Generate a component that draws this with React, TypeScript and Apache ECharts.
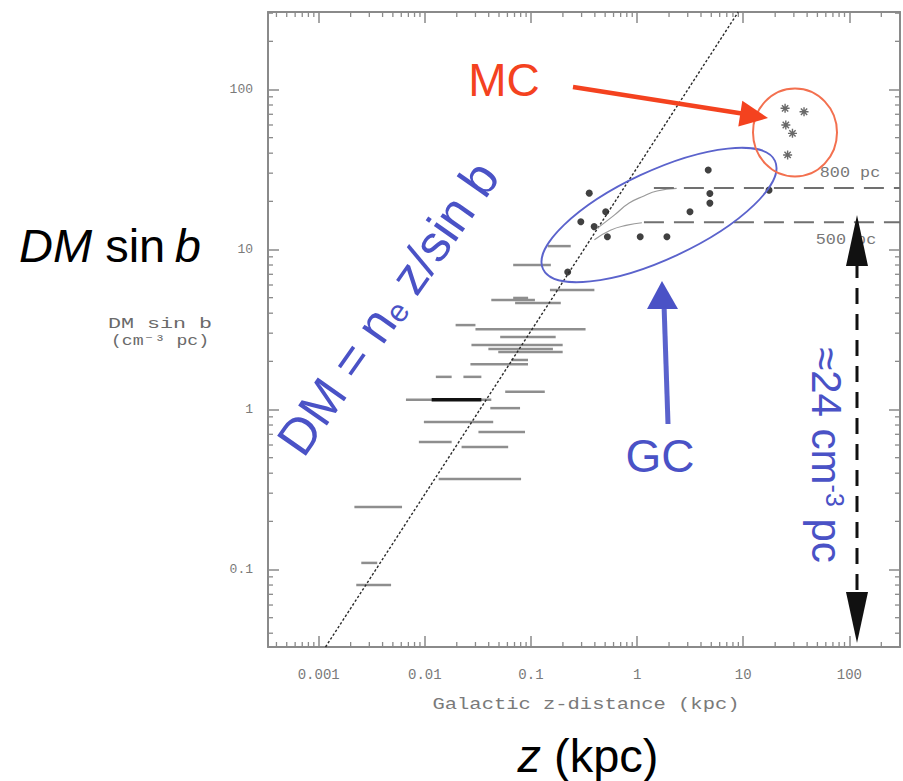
import React, { useEffect, useRef } from 'react';
import * as echarts from 'echarts';

// Axis ranges (kpc, cm^-3 pc)
const X_MIN = 0.000333;
const X_MAX = 300;
const Y_MIN = 0.0328;
const Y_MAX = 305;

// Pulsar z-distance ranges: [zMin, zMax, DM sin b]
const barsGray: number[][] = [
  [0.144, 0.237, 10.5],
  [0.068, 0.154, 8.0],
  [0.151, 0.396, 5.58],
  [0.0423, 0.109, 4.83],
  [0.068, 0.094, 4.98],
  [0.0709, 0.191, 4.63],
  [0.0195, 0.03, 3.37],
  [0.03, 0.327, 3.18],
  [0.0513, 0.171, 2.84],
  [0.0275, 0.199, 2.53],
  [0.0397, 0.161, 2.39],
  [0.0492, 0.199, 2.29],
  [0.065, 0.0938, 2.04],
  [0.0269, 0.0938, 1.92],
  [0.0127, 0.0179, 1.6],
  [0.0231, 0.0341, 1.6],
  [0.0572, 0.135, 1.29],
  [0.00664, 0.0423, 1.15],
  [0.0414, 0.0789, 1.02],
  [0.0098, 0.0441, 0.835],
  [0.032, 0.0879, 0.723],
  [0.00879, 0.0179, 0.626],
  [0.0222, 0.061, 0.583],
  [0.0135, 0.0807, 0.368],
  [0.00217, 0.0061, 0.246],
  [0.00252, 0.00356, 0.11],
  [0.00226, 0.00481, 0.08],
];
const barsDark: number[][] = [[0.0116, 0.0341, 1.15]];

// Globular-cluster pulsars
const gcZ = [0.354, 0.506, 0.295, 0.394, 0.525, 0.222, 1.07, 1.91, 3.15, 4.68, 4.85, 4.85, 17.5];
const gcDM = [22.5, 17.2, 14.9, 13.9, 12.0, 7.23, 12.0, 12.0, 17.2, 31.4, 22.4, 19.5, 23.5];

// Magellanic-cloud pulsars
const mcZ = [24.8, 37.4, 25.2, 29.1, 26.2];
const mcDM = [76.3, 72.6, 60.0, 53.2, 39.0];

// DM = n_e z / sin b reference line
const diagZ = [0.00116, 8.98];
const diagDM = [0.0328, 305];

// Model curves for 800 pc and 500 pc scale heights
const upperZ = [0.423, 0.61, 0.842, 1.16, 1.54, 2.36];
const upperDM = [13.6, 16.4, 19.5, 21.6, 23.2, 24.1];
const upperFlatZ = [1.44, 300];
const upperFlatDM = [24.2, 24.2];
const lowerZ = [0.396, 0.56, 0.806, 1.11];
const lowerDM = [11.5, 13.2, 14.2, 14.7];
const lowerFlatZ = [1.16, 300];
const lowerFlatDM = [14.8, 14.8];

const minorMult = [2, 3, 4, 5, 6, 7, 8, 9];
const decades = [-4, -3, -2, -1, 0, 1, 2];

const MONO = '"Liberation Mono", "DejaVu Sans Mono", monospace';
const SANS = '"Liberation Sans", Arial, Helvetica, sans-serif';
const AXIS_GRAY = '#8a8a8a';
const BLUE = '#4a52c6';
const RED = '#f4421f';

function pairs(xs: number[], ys: number[]) {
  return xs.map((x, i) => [x, ys[i]]);
}

function fmtPow(v: number) {
  const l = Math.log10(v);
  const k = Math.round(l);
  if (Math.abs(l - k) > 1e-6) return '';
  if (k < 0) return Math.pow(10, k).toFixed(-k);
  return String(Math.round(Math.pow(10, k)));
}

function buildOption() {
  const minorX: number[][] = [];
  const minorY: number[][] = [];
  decades.forEach((d) => {
    minorMult.forEach((m) => {
      const v = m * Math.pow(10, d);
      if (v > X_MIN && v < X_MAX) minorX.push([v, Y_MIN]);
      if (v > Y_MIN && v < Y_MAX) minorY.push([X_MIN, v]);
    });
  });

  const axisCommon = {
    type: 'log' as const,
    logBase: 10,
    axisLine: { show: true, onZero: false, lineStyle: { color: AXIS_GRAY, width: 2 } },
    axisTick: { show: true, inside: true, length: 11, lineStyle: { color: AXIS_GRAY, width: 1.5 } },
    splitLine: { show: false },
  };

  const barItem = (color: string, width: number) => (params: any, api: any) => {
    const p1 = api.coord([api.value(0), api.value(2)]);
    const p2 = api.coord([api.value(1), api.value(2)]);
    return {
      type: 'line',
      shape: { x1: p1[0], y1: p1[1], x2: p2[0], y2: p2[1] },
      style: { stroke: color, lineWidth: width },
    };
  };

  return {
    animation: false,
    backgroundColor: '#ffffff',
    grid: { left: 268, top: 12, width: 637, height: 635, containLabel: false },
    xAxis: [
      {
        ...axisCommon,
        min: X_MIN,
        max: X_MAX,
        position: 'bottom',
        axisLabel: {
          show: true,
          margin: 21,
          color: '#7a7a7a',
          fontFamily: MONO,
          fontSize: 14,
          formatter: (v: number) => fmtPow(v),
        },
      },
      {
        ...axisCommon,
        min: X_MIN,
        max: X_MAX,
        position: 'top',
        axisLabel: { show: false },
      },
    ],
    yAxis: [
      {
        ...axisCommon,
        min: Y_MIN,
        max: Y_MAX,
        position: 'left',
        axisLabel: {
          show: true,
          margin: 15,
          color: '#7a7a7a',
          fontFamily: MONO,
          fontSize: 13,
          formatter: (v: number) => fmtPow(v),
        },
      },
      {
        ...axisCommon,
        min: Y_MIN,
        max: Y_MAX,
        position: 'right',
        axisLabel: { show: false },
      },
    ],
    series: [
      {
        type: 'custom',
        name: 'minorX',
        coordinateSystem: 'cartesian2d',
        silent: true,
        data: minorX,
        renderItem: (params: any, api: any) => {
          const p = api.coord([api.value(0), Y_MIN]);
          const cs = params.coordSys;
          const yb = cs.y + cs.height;
          return {
            type: 'group',
            children: [
              { type: 'line', shape: { x1: p[0], y1: yb, x2: p[0], y2: yb - 5 }, style: { stroke: AXIS_GRAY, lineWidth: 1.3 } },
              { type: 'line', shape: { x1: p[0], y1: cs.y, x2: p[0], y2: cs.y + 5 }, style: { stroke: AXIS_GRAY, lineWidth: 1.3 } },
            ],
          };
        },
      },
      {
        type: 'custom',
        name: 'minorY',
        coordinateSystem: 'cartesian2d',
        silent: true,
        data: minorY,
        renderItem: (params: any, api: any) => {
          const p = api.coord([X_MIN, api.value(1)]);
          const cs = params.coordSys;
          const xr = cs.x + cs.width;
          return {
            type: 'group',
            children: [
              { type: 'line', shape: { x1: cs.x, y1: p[1], x2: cs.x + 5, y2: p[1] }, style: { stroke: AXIS_GRAY, lineWidth: 1.3 } },
              { type: 'line', shape: { x1: xr, y1: p[1], x2: xr - 5, y2: p[1] }, style: { stroke: AXIS_GRAY, lineWidth: 1.3 } },
            ],
          };
        },
      },
      {
        type: 'custom',
        name: 'bars',
        coordinateSystem: 'cartesian2d',
        encode: { x: [0, 1], y: 2 },
        data: barsGray,
        renderItem: barItem('#8e8e8e', 2.5),
      },
      {
        type: 'custom',
        name: 'barsDark',
        coordinateSystem: 'cartesian2d',
        encode: { x: [0, 1], y: 2 },
        data: barsDark,
        renderItem: barItem('#111111', 3.5),
      },
      {
        type: 'line',
        name: 'diag',
        data: pairs(diagZ, diagDM),
        symbol: 'none',
        lineStyle: { color: '#2a2a2a', width: 1.4, type: [2.5, 2] },
      },
      {
        type: 'line',
        name: 'upperCurve',
        data: pairs(upperZ, upperDM),
        symbol: 'none',
        smooth: true,
        lineStyle: { color: '#9a9a9a', width: 1.2 },
      },
      {
        type: 'line',
        name: 'lowerCurve',
        data: pairs(lowerZ, lowerDM),
        symbol: 'none',
        smooth: true,
        lineStyle: { color: '#9a9a9a', width: 1.2 },
      },
      {
        type: 'line',
        name: 'upperFlat',
        data: pairs(upperFlatZ, upperFlatDM),
        symbol: 'none',
        lineStyle: { color: '#707070', width: 2, type: [20, 10] },
      },
      {
        type: 'line',
        name: 'lowerFlat',
        data: pairs(lowerFlatZ, lowerFlatDM),
        symbol: 'none',
        lineStyle: { color: '#707070', width: 2, type: [20, 10] },
      },
      {
        type: 'scatter',
        name: 'GC',
        data: pairs(gcZ, gcDM),
        symbol: 'circle',
        symbolSize: 7,
        itemStyle: { color: '#111' },
      },
      {
        type: 'scatter',
        name: 'MC',
        data: pairs(mcZ, mcDM),
        symbol: 'path://M5,0L5,10M0,5L10,5M1.5,1.5L8.5,8.5M8.5,1.5L1.5,8.5',
        symbolSize: 9,
        itemStyle: { color: 'none', borderColor: '#444', borderWidth: 1.4 },
      },
    ],
    graphic: [
      // GC ellipse
      {
        type: 'ellipse',
        x: 659,
        y: 215,
        rotation: (25 * Math.PI) / 180,
        shape: { cx: 0, cy: 0, rx: 128, ry: 44 },
        style: { fill: 'none', stroke: '#5b63cc', lineWidth: 1.8 },
        z: 100,
      },
      // MC circle
      {
        type: 'ellipse',
        shape: { cx: 795, cy: 132.5, rx: 42, ry: 44 },
        style: { fill: 'none', stroke: '#f3704f', lineWidth: 2 },
        z: 100,
      },
      // MC arrow
      {
        type: 'line',
        shape: { x1: 573, y1: 87, x2: 745, y2: 114 },
        style: { stroke: RED, lineWidth: 4.5 },
        z: 100,
      },
      {
        type: 'polygon',
        shape: { points: [[768, 118], [738.3, 126.4], [742.3, 100.8]] },
        style: { fill: RED },
        z: 100,
      },
      // GC arrow
      {
        type: 'line',
        shape: { x1: 668, y1: 424, x2: 664, y2: 304 },
        style: { stroke: '#5a62cc', lineWidth: 5 },
        z: 100,
      },
      {
        type: 'polygon',
        shape: { points: [[662, 281], [647, 309], [678, 309]] },
        style: { fill: BLUE },
        z: 100,
      },
      // double dashed arrow
      {
        type: 'line',
        shape: { x1: 857, y1: 262, x2: 857, y2: 596 },
        style: { stroke: '#111', lineWidth: 3, lineDash: [16, 10] },
        z: 100,
      },
      {
        type: 'polygon',
        shape: { points: [[857, 215], [846, 266], [868, 266]] },
        style: { fill: '#111' },
        z: 100,
      },
      {
        type: 'polygon',
        shape: { points: [[857, 643], [846, 592], [868, 592]] },
        style: { fill: '#111' },
        z: 100,
      },
      // texts
      {
        type: 'text',
        x: 504,
        y: 80,
        style: { text: 'MC', fill: RED, fontSize: 46, fontFamily: SANS, align: 'center', verticalAlign: 'middle' },
        z: 100,
      },
      {
        type: 'text',
        x: 660,
        y: 456,
        style: { text: 'GC', fill: BLUE, fontSize: 46, fontFamily: SANS, align: 'center', verticalAlign: 'middle' },
        z: 100,
      },
      {
        type: 'text',
        x: 388,
        y: 308,
        rotation: (55 * Math.PI) / 180,
        style: {
          text: '{n|DM = n}{s|e}{n| z/sin b}',
          fill: BLUE,
          fontSize: 51,
          fontFamily: SANS,
          align: 'center',
          verticalAlign: 'middle',
          rich: {
            n: { fontSize: 51, fontFamily: SANS, fill: BLUE, lineHeight: 51 },
            s: { fontSize: 31, fontFamily: SANS, fill: BLUE, lineHeight: 18, verticalAlign: 'bottom' },
          },
        },
        z: 100,
      },
      {
        type: 'text',
        x: 826,
        y: 455,
        rotation: -Math.PI / 2,
        style: {
          text: '{n|≈24 cm}{p|-3}{n| pc}',
          fill: BLUE,
          fontSize: 42,
          fontFamily: SANS,
          align: 'center',
          verticalAlign: 'middle',
          rich: {
            n: { fontSize: 42, fontFamily: SANS, fill: BLUE, lineHeight: 42 },
            p: { fontSize: 25, fontFamily: SANS, fill: BLUE, lineHeight: 21, verticalAlign: 'top' },
          },
        },
        z: 100,
      },
      {
        type: 'text',
        x: 19,
        y: 245,
        style: {
          text: '{i|DM} sin\u2009{i|b}',
          fill: '#000',
          fontSize: 47,
          fontFamily: SANS,
          align: 'left',
          verticalAlign: 'middle',
          rich: {
            i: { fontSize: 47, fontFamily: SANS, fontStyle: 'italic', fill: '#000' },
          },
        },
        z: 100,
      },
      {
        type: 'text',
        x: 588,
        y: 755,
        style: {
          text: '{i|z} (kpc)',
          fill: '#000',
          fontSize: 47,
          fontFamily: SANS,
          align: 'center',
          verticalAlign: 'middle',
          rich: {
            i: { fontSize: 47, fontFamily: SANS, fontStyle: 'italic', fill: '#000' },
          },
        },
        z: 100,
      },
      {
        type: 'text',
        x: 586,
        y: 705,
        scaleX: 1.28,
        style: { text: 'Galactic z-distance (kpc)', fill: '#7a7a7a', fontSize: 16, fontFamily: MONO, align: 'center', verticalAlign: 'middle' },
      },
      {
        type: 'text',
        x: 160,
        y: 324,
        scaleX: 1.55,
        style: { text: 'DM sin b', fill: '#6a6a6a', fontSize: 14, fontFamily: MONO, align: 'center', verticalAlign: 'middle' },
      },
      {
        type: 'text',
        x: 160,
        y: 341,
        scaleX: 1.3,
        style: { text: '(cm⁻³ pc)', fill: '#6a6a6a', fontSize: 14, fontFamily: MONO, align: 'center', verticalAlign: 'middle' },
      },
      {
        type: 'text',
        x: 850,
        y: 173,
        scaleX: 1.2,
        style: { text: '800 pc', fill: '#777', fontSize: 14, fontFamily: MONO, align: 'center', verticalAlign: 'middle' },
      },
      {
        type: 'text',
        x: 846,
        y: 240,
        scaleX: 1.2,
        style: { text: '500 pc', fill: '#777', fontSize: 14, fontFamily: MONO, align: 'center', verticalAlign: 'middle' },
      },
    ],
  };
}

export default function App() {
  const ref = useRef<HTMLDivElement>(null);
  useEffect(() => {
    document.body.style.margin = '0';
    if (!ref.current) return;
    const chart = echarts.init(ref.current, null, { renderer: 'svg' });
    chart.setOption(buildOption() as any);
    return () => chart.dispose();
  }, []);
  return <div ref={ref} style={{ width: 903, height: 781, background: '#fff' }} />;
}
